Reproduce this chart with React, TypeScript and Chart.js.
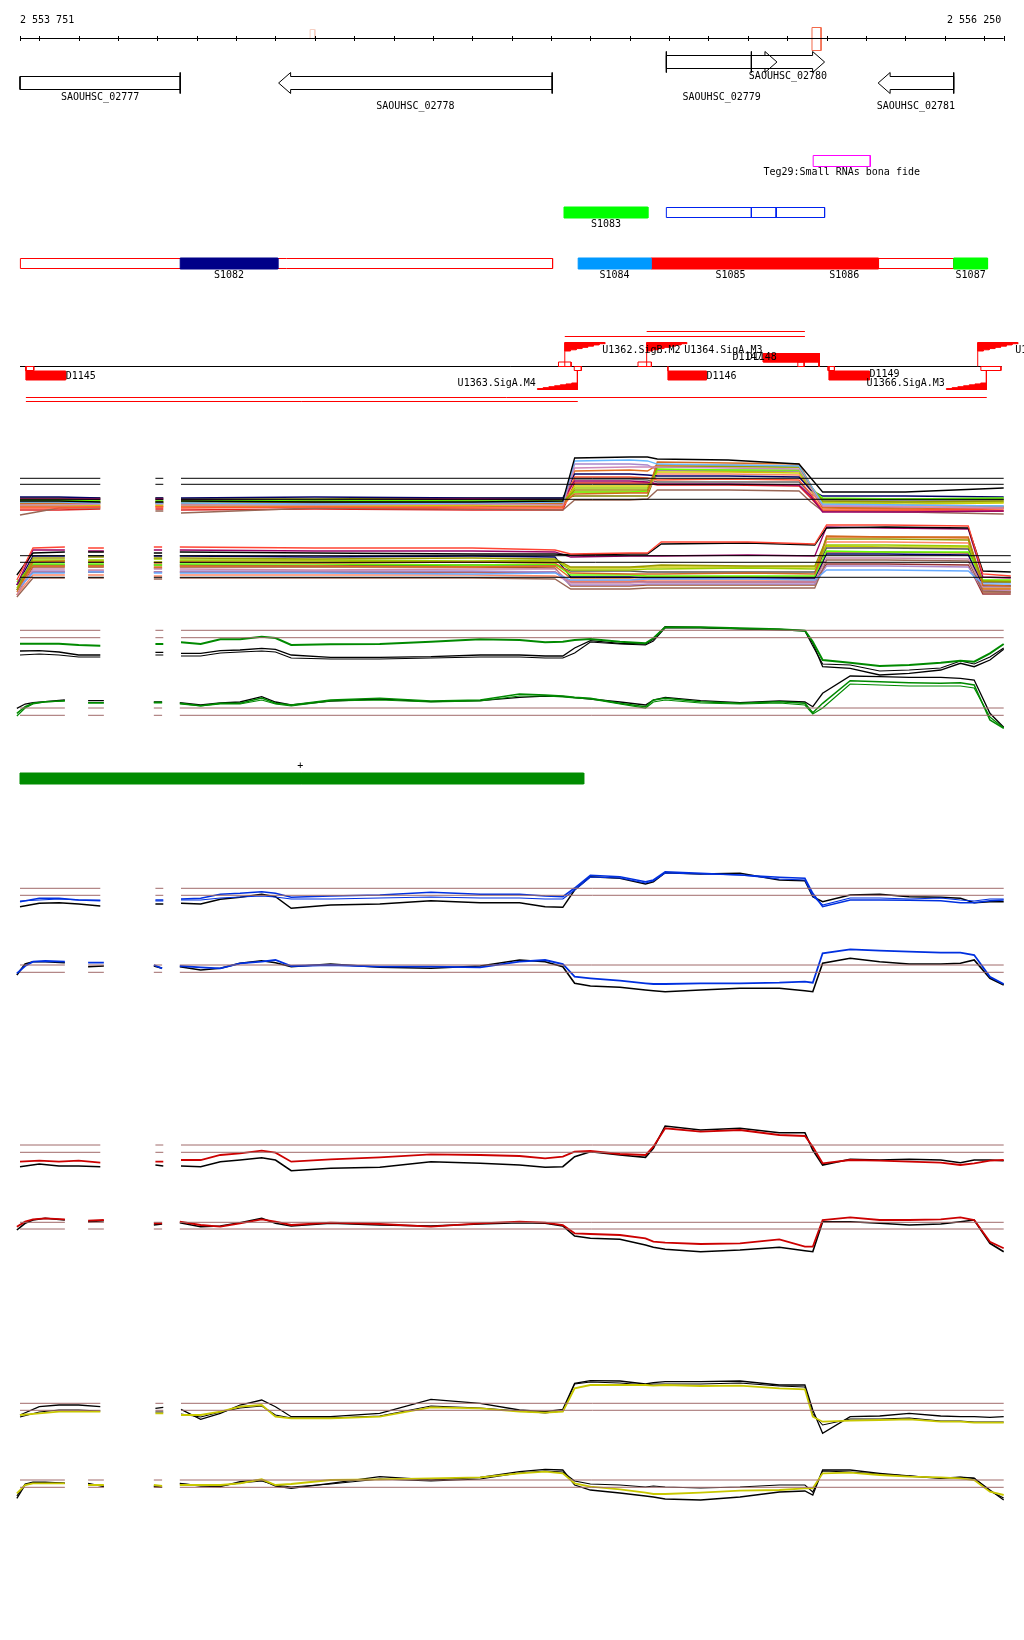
import React, { useEffect, useRef } from "react";
import { Chart, registerables } from "chart.js";

Chart.register(...registerables);

/* ======================= DATA ======================= */
const VIEW_START = 2553751;
const VIEW_END = 2556250;
const TICK_STEP = 100;

const HILITE_START = [2554488, 2555763];
const HILITE_END = [2554500, 2555786];

// genes
const GENE_NAMES = ["SAOUHSC_02777", "SAOUHSC_02778", "SAOUHSC_02779", "SAOUHSC_02780", "SAOUHSC_02781"];
const GENE_START = [2553560, 2554408, 2555393, 2555609, 2555931];
const GENE_END = [2554158, 2555103, 2555674, 2555795, 2556123];
const GENE_STRAND = [-1, -1, 1, 1, -1];

// small RNA
const SRNA_NAMES = ["Teg29:Small RNAs bona fide"];
const SRNA_START = [2555766];
const SRNA_END = [2555911];

// segment row 1
const SEG1_NAMES = ["S1083"];
const SEG1_START = [2555133];
const SEG1_END = [2555346];
const CDS_BOUNDS = [2555393, 2555609, 2555672, 2555795];

// segment row 2
const SEG_NAMES = ["S1082", "S1084", "S1085", "S1086", "S1087"];
const SEG_START = [2554158, 2555169, 2555354, 2555758, 2556123];
const SEG_END = [2554406, 2555354, 2555758, 2555932, 2556209];
const SEG_OUTLINE_START = [2553752, 2555932];
const SEG_OUTLINE_END = [2555104, 2556123];

// transcription units
const TU_LINE = [2553751, 2556245];
const TU_START = [2553766, 2553766, 2555135, 2555343];
const TU_END = [2556207, 2555168, 2555745, 2555745];
const DOWN_NAMES = ["D1145", "D1146", "D1147", "D1148", "D1149"];
const DOWN_START = [2553766, 2555397, 2555639, 2555639, 2555806];
const DOWN_END = [2553867, 2555495, 2555781, 2555781, 2555909];
const DOWN_SIDE = [-1, -1, 1, 1, -1];
const DOWN_LABEL_AT = [2553867, 2555495, 2555561, 2555597, 2555909];
const PROM_NAMES = ["U1362.SigB.M2", "U1363.SigA.M4", "U1364.SigA.M3", "U1366.SigA.M3", "U1367.SigA.M1"];
const PROM_POS = [2555135, 2555167, 2555343, 2556206, 2556184];
const PROM_STRAND = [1, -1, 1, -1, 1];
const SITE_START = [2555119, 2555159, 2555321, 2556192, 2553766, 2555727, 2555803];
const SITE_END = [2555151, 2555177, 2555355, 2556243, 2553786, 2555743, 2555820];
const SITE_SIDE = [1, -1, 1, -1, -1, 1, -1];

// coverage bar
const COVER_START = [2553751];
const COVER_END = [2555183];
const COVER_MARK = 2554463;

// expression sample positions
const TOP_POS = [2553751, 2553800, 2553850, 2553900, 2553955, 2554095, 2554115, 2554160, 2554210, 2554260, 2554310, 2554365, 2554400, 2554440, 2554540, 2554665, 2554795, 2554920, 2555020, 2555085, 2555130, 2555160, 2555200, 2555275, 2555340, 2555360, 2555390, 2555480, 2555580, 2555680, 2555745, 2555765, 2555790, 2555860, 2555935, 2556010, 2556090, 2556140, 2556175, 2556215, 2556250];
const BOT_POS = [2553743, 2553764, 2553784, 2553815, 2553865, 2553924, 2553964, 2554091, 2554112, 2554157, 2554210, 2554260, 2554310, 2554365, 2554400, 2554440, 2554540, 2554665, 2554795, 2554920, 2555020, 2555085, 2555130, 2555160, 2555200, 2555275, 2555340, 2555360, 2555390, 2555480, 2555580, 2555680, 2555745, 2555765, 2555790, 2555860, 2555935, 2556010, 2556090, 2556140, 2556175, 2556215, 2556250];
const TOP_GAPS = [4, 6];
const BOT_GAPS = [4, 6, 8];
const TOP_SEGMENTS = [[2553751, 2553955], [2554095, 2554115], [2554160, 2556250]];
const BOT_SEGMENTS = [[2553751, 2553865], [2553924, 2553964], [2554091, 2554112], [2554157, 2556250]];
const BOT_SEGMENTS_B = [[2553751, 2553865], [2553924, 2553964], [2554091, 2554112], [2554157, 2556268]];

// cluster A (forward strand, many conditions)
const POS_A = [2553751, 2553850, 2553955, 2554095, 2554115, 2554160, 2554500, 2554900, 2555130, 2555160, 2555300, 2555345, 2555370, 2555550, 2555730, 2555760, 2555790, 2556000, 2556250];
const A_GAPS = [2, 4];
const A_BLACK = [1.9, 1.9, 1.8, 1.8, 1.8, 1.9, 1.8, 1.8, 1.9, 6.2, 6.3, 6.3, 6.1, 6.0, 5.6, 4.2, 2.8, 2.8, 3.2];
const A_LIGHTBLUE = [1.8, 1.8, 1.7, 1.7, 1.7, 1.7, 1.6, 1.7, 1.8, 5.9, 6.0, 5.9, 5.6, 5.5, 5.4, 3.5, 1.6, 1.5, 1.4];
const A_PINK = [1.5, 1.5, 1.6, 1.6, 1.6, 1.5, 1.5, 1.6, 1.5, 5.2, 5.3, 5.3, 5.3, 5.2, 5.1, 3.2, 1.4, 1.3, 1.2];
const A_CHOCOLATE = [1.6, 1.7, 1.7, 1.7, 1.7, 1.6, 1.7, 1.6, 1.6, 2.6, 2.7, 2.7, 5.8, 5.7, 5.6, 3.5, 1.3, 1.2, 1.3];
const A_OLIVE = [1.7, 1.7, 1.8, 1.8, 1.8, 1.7, 1.8, 1.7, 1.7, 3.0, 3.0, 3.0, 5.3, 5.4, 5.3, 3.4, 1.9, 1.8, 1.9];
const A_LIME = [2.0, 2.0, 1.9, 1.9, 1.9, 1.9, 2.0, 1.9, 1.9, 2.8, 2.8, 2.9, 5.1, 5.0, 5.0, 3.2, 2.2, 2.1, 2.2];
const A_MAGENTA = [2.1, 2.1, 2.1, 2.1, 2.1, 2.0, 2.0, 2.1, 2.0, 3.9, 3.9, 3.8, 3.6, 3.6, 3.5, 2.4, 0.8, 0.8, 0.9];
const A_TOMATO = [1.2, 1.2, 1.3, 1.3, 1.3, 1.2, 1.3, 1.2, 1.2, 4.3, 4.3, 4.2, 4.0, 4.1, 4.0, 2.6, 1.0, 1.0, 1.1];
const A_BROWN = [0.5, 1.2, 1.2, 0.9, 0.9, 0.7, 1.2, 1.1, 1.0, 2.0, 2.0, 2.1, 3.0, 3.0, 2.9, 1.8, 0.9, 0.8, 0.6];
const A_NAVY = [2.3, 2.3, 2.2, 2.2, 2.2, 2.2, 2.3, 2.2, 2.2, 4.6, 4.6, 4.5, 4.4, 4.4, 4.3, 3.0, 2.4, 2.4, 2.3];
const A_GOLD = [1.5, 1.5, 1.5, 1.5, 1.5, 1.5, 1.4, 1.5, 1.5, 3.4, 3.4, 3.4, 4.8, 4.8, 4.7, 3.0, 1.7, 1.6, 1.7];
const A_ORANGE = [1.4, 1.4, 1.4, 1.4, 1.4, 1.4, 1.4, 1.4, 1.3, 4.9, 5.0, 4.9, 5.5, 5.5, 5.4, 3.3, 1.2, 1.1, 1.2];
const A_LAVENDER = [1.7, 1.7, 1.7, 1.7, 1.7, 1.7, 1.6, 1.7, 1.7, 5.6, 5.6, 5.5, 5.0, 5.0, 4.9, 3.0, 1.5, 1.5, 1.4];
const A_SALMON = [1.3, 1.3, 1.3, 1.3, 1.3, 1.3, 1.3, 1.3, 1.4, 2.8, 2.8, 2.8, 4.6, 4.6, 4.5, 2.9, 1.3, 1.3, 1.3];
const A_GREY = [2.0, 2.0, 2.0, 2.0, 2.0, 2.0, 1.9, 2.0, 2.0, 4.1, 4.1, 4.0, 3.8, 3.8, 3.8, 2.6, 2.0, 2.0, 2.0];
const A_YELLOWGREEN = [1.8, 1.8, 1.8, 1.8, 1.8, 1.8, 1.8, 1.8, 1.8, 3.2, 3.2, 3.2, 5.4, 5.3, 5.3, 3.3, 1.8, 1.8, 1.8];
const A_RED = [1.0, 1.0, 1.1, 1.1, 1.1, 1.0, 1.1, 1.0, 1.0, 3.7, 3.7, 3.7, 3.5, 3.5, 3.4, 2.2, 0.9, 0.9, 0.9];
const A_DARKOLIVE = [2.2, 2.2, 2.2, 2.2, 2.2, 2.1, 2.1, 2.2, 2.2, 2.4, 2.4, 2.4, 5.0, 4.9, 4.9, 3.0, 2.1, 2.1, 2.1];
const REF_A = [4.17, 3.57, 2.07];

// cluster B (reverse strand, many conditions)
const POS_B = [2553743, 2553784, 2553865, 2553924, 2553964, 2554091, 2554112, 2554157, 2554500, 2554900, 2555110, 2555150, 2555300, 2555345, 2555380, 2555600, 2555770, 2555800, 2555950, 2556160, 2556197, 2556268];
const B_GAPS = [2, 4, 6];
const B_TOMATO = [2.0, 5.2, 5.3, 5.2, 5.2, 5.3, 5.3, 5.3, 5.2, 5.2, 5.0, 4.6, 4.7, 4.7, 5.8, 5.8, 5.6, 7.5, 7.5, 7.4, 2.6, 2.4];
const B_BLACK = [2.5, 4.7, 4.8, 4.8, 4.8, 4.7, 4.7, 4.8, 4.7, 4.6, 4.6, 4.5, 4.6, 4.6, 5.6, 5.7, 5.5, 7.2, 7.3, 7.2, 2.9, 2.8];
const B_MAGENTA = [1.5, 5.0, 5.0, 4.9, 4.9, 5.0, 5.0, 5.0, 4.9, 4.9, 4.8, 4.3, 4.4, 4.4, 4.4, 4.5, 4.4, 7.3, 7.2, 7.1, 2.3, 2.2];
const B_OLIVE = [1.0, 4.2, 4.2, 4.3, 4.3, 4.2, 4.2, 4.2, 4.1, 4.2, 4.1, 3.3, 3.3, 3.4, 3.5, 3.4, 3.4, 6.1, 6.1, 6.0, 1.9, 1.8];
const B_CHOCOLATE = [0.8, 3.8, 3.9, 3.8, 3.8, 3.7, 3.7, 3.8, 3.7, 3.8, 3.7, 2.7, 2.6, 2.6, 2.6, 2.7, 2.6, 6.4, 6.3, 6.3, 1.5, 1.4];
const B_YELLOWGREEN = [1.2, 4.0, 4.0, 4.0, 4.0, 4.1, 4.1, 4.0, 4.0, 3.9, 4.0, 3.0, 3.0, 3.1, 3.1, 3.2, 3.1, 5.5, 5.5, 5.4, 1.9, 1.9];
const B_LIME = [1.8, 3.6, 3.6, 3.6, 3.6, 3.5, 3.5, 3.6, 3.6, 3.5, 3.6, 2.5, 2.5, 2.4, 2.4, 2.4, 2.4, 4.9, 4.8, 4.8, 2.0, 2.0];
const B_LIGHTBLUE = [1.0, 2.7, 2.7, 2.8, 2.8, 2.7, 2.7, 2.7, 2.7, 2.6, 2.7, 2.0, 2.0, 2.1, 2.1, 2.1, 2.0, 3.0, 3.0, 2.9, 1.6, 1.6];
const B_PINK = [0.5, 3.1, 3.1, 3.0, 3.0, 3.1, 3.1, 3.1, 3.0, 3.1, 3.1, 1.7, 1.7, 1.8, 1.8, 1.8, 1.8, 4.2, 4.2, 4.1, 1.3, 1.3];
const B_BROWN = [0.3, 2.2, 2.2, 2.2, 2.2, 2.1, 2.1, 2.2, 2.2, 2.2, 2.1, 1.1, 1.1, 1.2, 1.2, 1.2, 1.2, 4.0, 4.0, 3.9, 0.9, 0.8];
const B_NAVY = [1.5, 4.4, 4.4, 4.4, 4.4, 4.4, 4.4, 4.4, 4.3, 4.4, 4.3, 2.3, 2.3, 2.2, 2.2, 2.2, 2.2, 4.6, 4.6, 4.5, 1.4, 1.4];
const B_ORANGE = [1.0, 3.4, 3.4, 3.4, 3.4, 3.3, 3.3, 3.4, 3.4, 3.3, 3.4, 2.2, 2.2, 2.3, 2.3, 2.3, 2.2, 6.3, 6.3, 6.2, 1.1, 1.1];
const B_LAVENDER = [1.0, 2.9, 2.9, 2.9, 2.9, 2.8, 2.8, 2.9, 2.9, 2.9, 2.8, 1.5, 1.5, 1.6, 1.6, 1.6, 1.6, 3.4, 3.4, 3.3, 1.0, 1.0];
const B_GREY = [1.5, 3.5, 3.5, 3.5, 3.5, 3.5, 3.5, 3.5, 3.4, 3.5, 3.5, 2.9, 2.9, 2.8, 2.8, 2.8, 2.8, 5.2, 5.2, 5.1, 1.8, 1.8];
const B_SALMON = [0.5, 2.5, 2.5, 2.5, 2.5, 2.4, 2.4, 2.5, 2.5, 2.5, 2.4, 1.9, 1.9, 2.0, 2.0, 2.0, 2.0, 5.8, 5.8, 5.7, 0.9, 0.9];
const B_GOLD = [1.0, 3.9, 3.9, 3.9, 3.9, 3.8, 3.8, 3.9, 3.9, 3.8, 3.9, 3.2, 3.2, 3.3, 3.3, 3.3, 3.3, 5.4, 5.3, 5.3, 1.2, 1.2];
const B_SIENNA = [0.5, 3.3, 3.3, 3.3, 3.3, 3.2, 3.2, 3.3, 3.3, 3.3, 3.2, 1.4, 1.4, 1.5, 1.5, 1.5, 1.5, 4.8, 4.8, 4.7, 0.8, 0.8];
const B_DARKRED = [1.0, 2.8, 2.8, 2.8, 2.8, 2.8, 2.8, 2.8, 2.8, 2.8, 2.8, 1.8, 1.8, 1.8, 1.8, 1.8, 1.8, 3.6, 3.6, 3.5, 0.6, 0.6];
const REF_B = [4.43, 3.77, 2.27];

// green pair (forward / reverse)
const C_GREEN = [3.63, 3.63, 3.63, 3.5, 3.43, 3.6, 3.6, 3.77, 3.6, 4.07, 4.07, 4.33, 4.2, 3.5, 3.57, 3.6, 3.83, 4.07, 4.0, 3.77, 3.83, 4.0, 4.1, 3.83, 3.67, 4.17, 5.27, 5.27, 5.17, 5.07, 4.93, 3.83, 2.0, 1.73, 1.4, 1.5, 1.73, 1.93, 1.83, 2.67, 3.6];
const C_BLACK = [2.9, 2.93, 2.8, 2.5, 2.5, 2.77, 2.77, 2.67, 2.67, 2.93, 3.0, 3.17, 3.07, 2.5, 2.27, 2.27, 2.33, 2.5, 2.5, 2.4, 2.4, 3.2, 3.93, 3.67, 3.6, 4.07, 5.33, 5.27, 5.13, 5.07, 4.93, 3.67, 1.33, 1.17, 0.5, 0.67, 1.0, 1.67, 1.33, 2.0, 3.07];
const C_BLACK2 = [2.5, 2.6, 2.5, 2.3, 2.3, 2.5, 2.5, 2.4, 2.4, 2.7, 2.8, 2.9, 2.8, 2.2, 2.1, 2.1, 2.2, 2.3, 2.3, 2.2, 2.2, 2.7, 3.8, 3.6, 3.5, 3.9, 5.2, 5.2, 5.1, 5.0, 4.9, 3.4, 1.6, 1.5, 0.9, 1.0, 1.2, 1.9, 1.6, 2.3, 3.2];
const REF_C = [4.97, 4.23];
const D_GREEN = [2.67, 3.33, 3.67, 3.83, 3.93, 3.73, 3.73, 3.77, 3.77, 3.67, 3.43, 3.67, 3.67, 4.2, 3.67, 3.5, 4.0, 4.17, 3.9, 4.0, 4.6, 4.5, 4.4, 4.27, 4.17, 3.67, 3.33, 4.0, 4.17, 3.83, 3.67, 3.83, 3.67, 2.73, 3.67, 5.93, 5.83, 5.73, 5.67, 5.73, 5.5, 2.0, 1.17];
const D_GREEN2 = [2.4, 3.2, 3.6, 3.8, 3.9, 3.7, 3.7, 3.7, 3.7, 3.6, 3.4, 3.6, 3.6, 4.0, 3.6, 3.4, 3.9, 4.0, 3.8, 3.9, 4.4, 4.4, 4.3, 4.2, 4.1, 3.6, 3.2, 3.8, 4.0, 3.7, 3.6, 3.7, 3.5, 2.6, 3.2, 5.6, 5.5, 5.4, 5.4, 5.4, 5.2, 2.3, 1.2];
const D_BLACK = [3.17, 3.6, 3.73, 3.83, 4.0, 3.93, 3.93, 3.8, 3.8, 3.73, 3.5, 3.7, 3.8, 4.33, 3.8, 3.5, 3.9, 4.1, 3.83, 3.93, 4.27, 4.4, 4.37, 4.23, 4.1, 3.8, 3.5, 4.0, 4.27, 3.93, 3.73, 3.9, 3.8, 3.33, 4.67, 6.4, 6.33, 6.27, 6.27, 6.17, 6.0, 2.67, 1.27];
const REF_D = [3.2, 2.47];

// blue pair
const E_BLUE = [1.83, 2.17, 2.17, 2.0, 1.93, 2.0, 2.0, 2.1, 2.17, 2.57, 2.67, 2.83, 2.67, 2.27, 2.4, 2.5, 2.77, 2.57, 2.57, 2.4, 2.33, 3.2, 4.47, 4.33, 3.83, 4.0, 4.83, 4.67, 4.5, 4.27, 4.17, 2.67, 1.33, 2.0, 2.0, 1.97, 1.93, 1.73, 1.73, 1.93, 2.0];
const E_BLUE2 = [1.9, 2.0, 2.1, 2.0, 2.0, 1.9, 1.9, 2.0, 2.0, 2.2, 2.3, 2.4, 2.3, 2.1, 2.1, 2.2, 2.3, 2.2, 2.2, 2.1, 2.1, 3.0, 4.3, 4.2, 3.7, 3.9, 4.7, 4.6, 4.5, 4.1, 4.0, 2.4, 1.5, 2.2, 2.2, 2.1, 2.2, 2.0, 1.9, 2.1, 2.1];
const E_BLACK = [1.33, 1.67, 1.73, 1.6, 1.4, 1.6, 1.6, 1.67, 1.6, 2.07, 2.27, 2.57, 2.33, 1.17, 1.5, 1.6, 1.93, 1.73, 1.73, 1.33, 1.27, 3.0, 4.33, 4.17, 3.6, 3.83, 4.73, 4.6, 4.67, 4.0, 3.93, 2.33, 1.83, 2.5, 2.57, 2.33, 2.27, 2.17, 1.73, 1.83, 1.83];
const REF_E = [3.17, 2.47];
const F_BLUE = [2.67, 3.4, 3.83, 3.9, 3.83, 3.73, 3.73, 3.5, 3.17, 3.4, 3.27, 3.17, 3.67, 3.83, 4.0, 3.4, 3.5, 3.33, 3.33, 3.27, 3.83, 4.0, 3.6, 2.33, 2.17, 1.93, 1.67, 1.6, 1.6, 1.67, 1.67, 1.73, 1.83, 1.73, 4.67, 5.07, 4.93, 4.83, 4.73, 4.73, 4.5, 2.33, 1.6];
const F_BLACK = [2.5, 3.6, 3.83, 3.83, 3.73, 3.33, 3.4, 3.4, 3.17, 3.33, 3.0, 3.17, 3.67, 3.93, 3.73, 3.33, 3.6, 3.27, 3.17, 3.4, 4.0, 3.83, 3.33, 1.67, 1.4, 1.27, 1.0, 0.93, 0.83, 1.0, 1.17, 1.17, 0.93, 0.83, 3.67, 4.17, 3.83, 3.6, 3.6, 3.67, 4.0, 2.17, 1.5];
const REF_F = [3.5, 2.77];

// red pair
const G_RED = [1.83, 1.93, 1.83, 1.93, 1.73, 1.83, 1.83, 2.0, 2.0, 2.5, 2.67, 2.93, 2.73, 1.83, 2.07, 2.27, 2.57, 2.5, 2.4, 2.17, 2.33, 2.83, 2.9, 2.6, 2.5, 3.33, 5.17, 4.83, 5.0, 4.5, 4.4, 3.33, 1.67, 2.0, 1.93, 1.83, 1.73, 1.5, 1.67, 1.93, 2.0];
const G_BLACK = [1.33, 1.6, 1.4, 1.4, 1.33, 1.5, 1.4, 1.4, 1.33, 1.83, 2.0, 2.23, 2.0, 0.93, 1.17, 1.27, 1.83, 1.67, 1.5, 1.27, 1.33, 2.33, 2.83, 2.5, 2.27, 3.17, 5.4, 5.0, 5.17, 4.73, 4.73, 3.0, 1.5, 2.07, 2.0, 2.07, 2.0, 1.73, 2.0, 2.0, 1.93];
const REF_G = [3.5, 2.77];
const H_RED = [3.33, 3.83, 4.07, 4.17, 4.07, 3.93, 4.0, 3.67, 3.67, 3.83, 3.5, 3.33, 3.67, 4.07, 3.83, 3.5, 3.73, 3.6, 3.33, 3.67, 3.83, 3.73, 3.5, 2.67, 2.6, 2.5, 2.17, 1.83, 1.73, 1.6, 1.67, 2.07, 1.33, 1.33, 4.0, 4.27, 4.0, 4.0, 4.07, 4.27, 4.0, 1.83, 1.17];
const H_BLACK = [3.0, 3.67, 4.0, 4.17, 4.0, 3.83, 3.93, 3.5, 3.6, 3.73, 3.33, 3.4, 3.73, 4.17, 3.67, 3.4, 3.67, 3.5, 3.4, 3.6, 3.73, 3.67, 3.4, 2.4, 2.17, 2.07, 1.5, 1.27, 1.07, 0.83, 1.0, 1.27, 0.93, 0.83, 3.83, 3.83, 3.67, 3.5, 3.6, 3.83, 4.0, 1.67, 0.83];
const REF_H = [3.77, 3.1];

// yellow pair
const I_YELLOW = [2.5, 2.67, 2.83, 2.83, 2.83, 2.67, 2.67, 2.5, 2.5, 2.83, 3.33, 3.5, 2.33, 2.17, 2.17, 2.33, 3.27, 3.17, 2.83, 2.73, 2.83, 5.17, 5.5, 5.5, 5.5, 5.43, 5.5, 5.4, 5.43, 5.17, 5.07, 2.33, 1.83, 1.93, 2.0, 2.07, 1.83, 1.83, 1.73, 1.73, 1.73];
const I_BLACK = [2.5, 3.33, 3.5, 3.5, 3.33, 3.17, 3.27, 3.07, 2.07, 2.67, 3.5, 4.0, 3.33, 2.33, 2.33, 2.67, 4.07, 3.67, 3.0, 2.83, 3.07, 5.67, 5.93, 5.9, 5.6, 5.73, 5.83, 5.83, 5.9, 5.5, 5.5, 3.0, 0.67, 2.33, 2.4, 2.67, 2.4, 2.33, 2.33, 2.27, 2.33];
const I_BLACK2 = [2.3, 2.8, 3.0, 3.0, 2.9, 2.8, 2.8, 2.6, 2.3, 2.8, 3.2, 3.4, 2.5, 2.2, 2.2, 2.4, 3.4, 3.2, 2.9, 2.7, 2.9, 5.6, 5.8, 5.7, 5.5, 5.6, 5.6, 5.6, 5.7, 5.4, 5.3, 2.6, 1.5, 2.1, 2.1, 2.2, 1.9, 1.9, 1.8, 1.8, 1.8];
const REF_I = [3.67, 2.97];
const J_YELLOW = [1.17, 2.0, 2.17, 2.17, 2.17, 2.0, 2.0, 2.0, 1.9, 2.0, 2.0, 2.0, 2.17, 2.57, 2.0, 2.1, 2.5, 2.57, 2.67, 2.77, 3.17, 3.33, 3.17, 2.17, 1.83, 1.57, 1.23, 1.1, 1.1, 1.23, 1.43, 1.5, 1.67, 1.67, 3.17, 3.23, 3.0, 2.83, 2.77, 2.67, 2.5, 1.33, 1.0];
const J_BLACK = [0.67, 2.0, 2.23, 2.23, 2.17, 2.17, 1.83, 1.83, 1.77, 2.17, 1.9, 1.83, 2.33, 2.5, 1.9, 1.67, 2.17, 2.83, 2.5, 2.77, 3.33, 3.57, 3.5, 2.0, 1.5, 1.2, 0.9, 0.8, 0.6, 0.5, 0.8, 1.3, 1.4, 1.0, 3.5, 3.5, 3.17, 2.9, 2.67, 2.77, 2.67, 1.5, 0.5];
const J_BLACK2 = [0.9, 2.1, 2.3, 2.3, 2.2, 2.1, 1.9, 1.9, 1.8, 2.1, 2.0, 1.9, 2.2, 2.4, 2.0, 1.8, 2.1, 2.6, 2.4, 2.6, 3.2, 3.4, 3.3, 2.4, 2.1, 2.0, 1.8, 1.9, 1.8, 1.7, 1.8, 2.0, 2.0, 1.3, 3.4, 3.3, 3.1, 2.9, 2.7, 2.8, 2.7, 1.4, 0.7];
const REF_J = [2.5, 1.77];

/* ======================= LAYOUT / STYLE ======================= */
const W = 1024;
const H = 1640;
const VIEW_LEFT_PX = 20;
const VIEW_RIGHT_PX = 1003.7;
const BP_PER_PX = (VIEW_END - VIEW_START) / (VIEW_RIGHT_PX - VIEW_LEFT_PX);
const X_MIN = VIEW_START - VIEW_LEFT_PX * BP_PER_PX;
const X_MAX = VIEW_END + (W - VIEW_RIGHT_PX) * BP_PER_PX;
const PX_PER_UNIT = 10;
const FONT = '10px "DejaVu Sans Mono", monospace';

const L = {
  axisY: 38.5, tickHalf: 2.5, axisLabelY: 20.5,
  hilite: [[29.5, 38.5], [27.5, 50.5]],
  hiliteColor: ["#f5cfc2", "#f2694a"],
  fwd: { barTop: 51.5, bodyTop: 55.5, bodyBot: 68.5, barBot: 72.5 },
  rev: { barTop: 72.5, bodyTop: 76.5, bodyBot: 89.5, barBot: 93.5 },
  headPx: 12,
  geneLabelY: [97.5, 106.5, 97.5, 76, 106.5],
  srna: [155.5, 166.5], srnaLabelY: 172.5,
  seg1: [207, 218], seg1LabelY: 224,
  seg2: [258.5, 268.5], seg2LabelY: 275.5,
  tuLine: 366.5, tuY: [397.5, 401.5, 336.5, 331.5],
  downBelow: [371, 380], downAbove: [353.5, 362],
  downLabelY: [376, 376, 357.5, 357.5, 374.5],
  siteAbove: [362, 366.5], siteBelow: [366.5, 370.5],
  flagPx: 40, flagSteps: 7, fwdFlagTop: 342.5, fwdFlagBot: 351, revFlagBot: 389.5, revFlagTop: 383,
  promLabelFwdY: 350, promLabelRevY: 383.5,
  cover: [773, 784], coverMarkY: 766.5,
};

const TRACK_BOTTOM: Record<string, number> = {
  yA: 520, yB: 600, yC: 680, yD: 740, yE: 920, yF: 1000, yG: 1180, yH: 1260, yI: 1440, yJ: 1505,
};

const GREEN = "#008a00";
const BLUE = "#0030e0";
const RED = "#cc0000";
const YELLOW = "#c8c800";
const BROWN = "#a06a6a";

/* ======================= BUILDERS ======================= */
type P = { x: number; y: number | null };

function withGaps(pos: number[], vals: number[], gaps: number[]): P[] {
  const out: P[] = [];
  pos.forEach((p, i) => {
    out.push({ x: p, y: vals[i] });
    if (gaps.includes(i) && i + 1 < pos.length) out.push({ x: (p + pos[i + 1]) / 2, y: null });
  });
  return out;
}
function refLine(segs: number[][], v: number): P[] {
  const out: P[] = [];
  segs.forEach((s, i) => {
    out.push({ x: s[0], y: v }, { x: s[1], y: v });
    if (i < segs.length - 1) out.push({ x: (s[1] + segs[i + 1][0]) / 2, y: null });
  });
  return out;
}
function poly(pts: number[][]): P[] {
  const out = pts.map(([x, y]) => ({ x, y }));
  out.push({ x: pts[0][0], y: pts[0][1] });
  return out;
}
function rect(s: number, e: number, t: number, b: number): P[] {
  return poly([[s, t], [e, t], [e, b], [s, b]]);
}
function seg(x1: number, y1: number, x2: number, y2: number): P[] {
  return [{ x: x1, y: y1 }, { x: x2, y: y2 }];
}
// stepped promoter flag: flat edge at yFlat, staircase from (stem, yStem) to (tip, yFlat)
function stairFlag(stem: number, tip: number, yFlat: number, yStem: number, n: number): P[] {
  const pts: number[][] = [[stem, yFlat], [tip, yFlat]];
  for (let k = n - 1; k >= 0; k--) {
    const y = yStem + (yFlat - yStem) * (k / n);
    const xOuter = stem + (tip - stem) * ((k + 1) / n);
    const xInner = stem + (tip - stem) * (k / n);
    pts.push([xOuter, y], [xInner, y]);
  }
  return poly(pts);
}
const clampX = (v: number) => Math.min(VIEW_END, Math.max(VIEW_START, v));

function buildDatasets() {
  const ds: any[] = [];
  const add = (data: P[], color: string, yAxisID: string, width: number, order: number, fillColor?: string) =>
    ds.push({
      type: "line", data, borderColor: color, backgroundColor: fillColor || "rgba(0,0,0,0)",
      fill: fillColor ? "shape" : false, borderWidth: width, pointRadius: 0, pointHoverRadius: 0,
      tension: 0, spanGaps: false, yAxisID, xAxisID: "x", order, clip: false,
    });

  // axis highlights
  HILITE_START.forEach((s, i) => add(rect(s, HILITE_END[i], L.hilite[i][0], L.hilite[i][1]), L.hiliteColor[i], "yAnn", 1, 3));

  // genes
  const head = L.headPx * BP_PER_PX;
  GENE_NAMES.forEach((_, i) => {
    const s = clampX(GENE_START[i]);
    const e = clampX(GENE_END[i]);
    if (GENE_STRAND[i] > 0) {
      const g = L.fwd; const mid = (g.barTop + g.barBot) / 2;
      const tipIn = GENE_END[i] <= VIEW_END;
      const pts = tipIn
        ? [[s, g.bodyTop], [e - head, g.bodyTop], [e - head, g.barTop], [e, mid], [e - head, g.barBot], [e - head, g.bodyBot], [s, g.bodyBot]]
        : [[s, g.bodyTop], [e, g.bodyTop], [e, g.bodyBot], [s, g.bodyBot]];
      add(poly(pts), "#000", "yAnn", 1, 2);
      if (GENE_START[i] >= VIEW_START) add(seg(s, g.barTop, s, g.barBot), "#000", "yAnn", 1, 2);
    } else {
      const g = L.rev; const mid = (g.barTop + g.barBot) / 2;
      const tipIn = GENE_START[i] >= VIEW_START;
      const pts = tipIn
        ? [[e, g.bodyTop], [s + head, g.bodyTop], [s + head, g.barTop], [s, mid], [s + head, g.barBot], [s + head, g.bodyBot], [e, g.bodyBot]]
        : [[e, g.bodyTop], [s, g.bodyTop], [s, g.bodyBot], [e, g.bodyBot]];
      add(poly(pts), "#000", "yAnn", 1, 2);
      if (GENE_END[i] <= VIEW_END) add(seg(e, g.barTop, e, g.barBot), "#000", "yAnn", 1, 2);
    }
  });

  // small RNA
  SRNA_START.forEach((s, i) => add(rect(s, SRNA_END[i], L.srna[0], L.srna[1]), "#ff00ff", "yAnn", 1, 2));

  // segment row 1
  SEG1_START.forEach((s, i) => add(rect(s, SEG1_END[i], L.seg1[0], L.seg1[1]), "#00ff00", "yAnn", 1, 2, "#00ff00"));
  for (let i = 0; i + 1 < CDS_BOUNDS.length; i++)
    add(rect(CDS_BOUNDS[i], CDS_BOUNDS[i + 1], L.seg1[0] + 0.5, L.seg1[1] - 0.5), "#0022ee", "yAnn", 1, 2);

  // segment row 2
  SEG_OUTLINE_START.forEach((s, i) => add(rect(s, SEG_OUTLINE_END[i], L.seg2[0], L.seg2[1]), "#ff0000", "yAnn", 1, 3));
  const segColors = ["#000088", "#0099ff", "#ff0000", "#ff0000", "#00ff00"];
  SEG_START.forEach((s, i) => add(rect(s, SEG_END[i], L.seg2[0] - 0.5, L.seg2[1] + 0.5), segColors[i], "yAnn", 1, 2, segColors[i]));

  // transcription units
  add(seg(TU_LINE[0], L.tuLine, TU_LINE[1], L.tuLine), "#000", "yAnn", 1, 3);
  TU_START.forEach((s, i) => add(seg(s, L.tuY[i], TU_END[i], L.tuY[i]), "#ff0000", "yAnn", 1, 2));
  DOWN_START.forEach((s, i) => {
    const r = DOWN_SIDE[i] > 0 ? L.downAbove : L.downBelow;
    add(rect(s, DOWN_END[i], r[0], r[1]), "#ff0000", "yAnn", 1, 2, "#ff0000");
    if (DOWN_SIDE[i] > 0) add(seg(DOWN_END[i], r[0], DOWN_END[i], L.tuLine), "#ff0000", "yAnn", 1, 2);
    else add(seg(s, L.tuLine, s, r[0]), "#ff0000", "yAnn", 1, 2);
  });
  SITE_START.forEach((s, i) => {
    const r = SITE_SIDE[i] > 0 ? L.siteAbove : L.siteBelow;
    add(rect(s, SITE_END[i], r[0], r[1]), "#ff0000", "yAnn", 1, 1);
  });
  const flag = L.flagPx * BP_PER_PX;
  PROM_POS.forEach((p, i) => {
    if (PROM_STRAND[i] > 0) {
      add(seg(p, L.tuLine, p, L.fwdFlagTop), "#ff0000", "yAnn", 1, 1);
      add(stairFlag(p, p + flag, L.fwdFlagTop, L.fwdFlagBot, L.flagSteps), "#ff0000", "yAnn", 1, 1, "#ff0000");
    } else {
      add(seg(p, L.siteBelow[1], p, L.revFlagBot), "#ff0000", "yAnn", 1, 1);
      add(stairFlag(p, p - flag, L.revFlagBot, L.revFlagTop, L.flagSteps), "#ff0000", "yAnn", 1, 1, "#ff0000");
    }
  });

  // coverage bar
  COVER_START.forEach((s, i) => add(rect(s, COVER_END[i], L.cover[0], L.cover[1]), "#008c00", "yAnn", 1, 2, "#008c00"));

  // cluster A
  const clusterA: [number[], string][] = [
    [A_BLACK, "#000000"], [A_LIGHTBLUE, "#66b8ff"], [A_PINK, "#cc88bb"], [A_CHOCOLATE, "#d2691e"],
    [A_OLIVE, "#999900"], [A_LIME, "#66ff00"], [A_MAGENTA, "#990066"], [A_TOMATO, "#ff5533"],
    [A_BROWN, "#996655"], [A_NAVY, "#000066"], [A_GOLD, "#cccc00"], [A_ORANGE, "#e07020"],
    [A_LAVENDER, "#aa88cc"], [A_SALMON, "#ff8866"], [A_GREY, "#666666"], [A_YELLOWGREEN, "#99cc00"],
    [A_RED, "#dd2222"], [A_DARKOLIVE, "#808000"],
  ];
  clusterA.forEach(([v, c], k) => add(withGaps(POS_A, v, A_GAPS), c, "yA", 1.3, 20 + k));
  REF_A.forEach((v) => add(refLine(TOP_SEGMENTS, v), "#000", "yA", 1, 10));

  const clusterB: [number[], string][] = [
    [B_TOMATO, "#ff4433"], [B_BLACK, "#000000"], [B_MAGENTA, "#990066"], [B_OLIVE, "#999900"],
    [B_CHOCOLATE, "#d2691e"], [B_YELLOWGREEN, "#99cc00"], [B_LIME, "#66ff00"], [B_LIGHTBLUE, "#66aaff"],
    [B_PINK, "#cc88aa"], [B_BROWN, "#996655"], [B_NAVY, "#000066"], [B_ORANGE, "#e07020"],
    [B_LAVENDER, "#aa88cc"], [B_GREY, "#555555"], [B_SALMON, "#ff8866"], [B_GOLD, "#cccc00"],
    [B_SIENNA, "#a0522d"], [B_DARKRED, "#993333"],
  ];
  clusterB.forEach(([v, c], k) => add(withGaps(POS_B, v, B_GAPS), c, "yB", 1.3, 20 + k));
  REF_B.forEach((v) => add(refLine(BOT_SEGMENTS_B, v), "#000", "yB", 1, 10));

  const pair = (axis: string, pos: number[], gaps: number[], segs: number[][], series: [number[], string, number][], refs: number[]) => {
    series.forEach(([v, c, w], k) => add(withGaps(pos, v, gaps), c, axis, w, 20 + k));
    refs.forEach((v) => add(refLine(segs, v), BROWN, axis, 1, 10));
  };
  pair("yC", TOP_POS, TOP_GAPS, TOP_SEGMENTS, [[C_GREEN, GREEN, 2], [C_BLACK, "#000", 1.3], [C_BLACK2, "#000", 1.1]], REF_C);
  pair("yD", BOT_POS, BOT_GAPS, BOT_SEGMENTS, [[D_GREEN, GREEN, 1.5], [D_GREEN2, GREEN, 1.2], [D_BLACK, "#000", 1.3]], REF_D);
  pair("yE", TOP_POS, TOP_GAPS, TOP_SEGMENTS, [[E_BLUE, BLUE, 1.6], [E_BLUE2, BLUE, 1.2], [E_BLACK, "#000", 1.5]], REF_E);
  pair("yF", BOT_POS, BOT_GAPS, BOT_SEGMENTS, [[F_BLUE, BLUE, 1.8], [F_BLACK, "#000", 1.6]], REF_F);
  pair("yG", TOP_POS, TOP_GAPS, TOP_SEGMENTS, [[G_RED, RED, 1.8], [G_BLACK, "#000", 1.6]], REF_G);
  pair("yH", BOT_POS, BOT_GAPS, BOT_SEGMENTS, [[H_RED, RED, 1.8], [H_BLACK, "#000", 1.6]], REF_H);
  pair("yI", TOP_POS, TOP_GAPS, TOP_SEGMENTS, [[I_YELLOW, YELLOW, 1.8], [I_BLACK, "#000", 1.3], [I_BLACK2, "#000", 1.1]], REF_I);
  pair("yJ", BOT_POS, BOT_GAPS, BOT_SEGMENTS, [[J_YELLOW, YELLOW, 1.8], [J_BLACK, "#000", 1.3], [J_BLACK2, "#000", 1.1]], REF_J);
  return ds;
}

type Label = { text: string; x: number; y: number; align: CanvasTextAlign };
function buildLabels(): Label[] {
  const out: Label[] = [];
  const fmt = (n: number) => String(n).replace(/\B(?=(\d{3})+(?!\d))/g, " ");
  out.push({ text: fmt(VIEW_START), x: VIEW_START, y: L.axisLabelY, align: "left" });
  out.push({ text: fmt(VIEW_END), x: VIEW_END - 2.5 * BP_PER_PX, y: L.axisLabelY, align: "right" });
  GENE_NAMES.forEach((n, i) => out.push({ text: n, x: (clampX(GENE_START[i]) + clampX(GENE_END[i])) / 2, y: L.geneLabelY[i], align: "center" }));
  SRNA_NAMES.forEach((n, i) => out.push({ text: n, x: (SRNA_START[i] + SRNA_END[i]) / 2, y: L.srnaLabelY, align: "center" }));
  SEG1_NAMES.forEach((n, i) => out.push({ text: n, x: (SEG1_START[i] + SEG1_END[i]) / 2, y: L.seg1LabelY, align: "center" }));
  SEG_NAMES.forEach((n, i) => out.push({ text: n, x: (SEG_START[i] + SEG_END[i]) / 2, y: L.seg2LabelY, align: "center" }));
  DOWN_NAMES.forEach((n, i) => out.push({ text: n, x: DOWN_LABEL_AT[i], y: L.downLabelY[i], align: "left" }));
  PROM_NAMES.forEach((n, i) => {
    if (PROM_STRAND[i] > 0) out.push({ text: n, x: PROM_POS[i] + (L.flagPx - 2.5) * BP_PER_PX, y: L.promLabelFwdY, align: "left" });
    else out.push({ text: n, x: PROM_POS[i] - (L.flagPx + 1.5) * BP_PER_PX, y: L.promLabelRevY, align: "right" });
  });
  out.push({ text: "+", x: COVER_MARK, y: L.coverMarkY, align: "center" });
  return out;
}

const LABELS = buildLabels();

const overlayPlugin = {
  id: "browserOverlay",
  afterDatasetsDraw(chart: any) {
    const ctx = chart.ctx;
    const xs = chart.scales.x;
    const ys = chart.scales.yAnn;
    const X = (v: number) => xs.getPixelForValue(v);
    const Y = (v: number) => ys.getPixelForValue(v);
    ctx.save();
    ctx.strokeStyle = "#000";
    ctx.lineWidth = 1;
    const ay = Y(L.axisY);
    ctx.beginPath();
    ctx.moveTo(X(VIEW_START), ay);
    ctx.lineTo(X(VIEW_END), ay);
    const ticks = [VIEW_START];
    for (let t = Math.ceil((VIEW_START + 1) / TICK_STEP) * TICK_STEP; t < VIEW_END; t += TICK_STEP) ticks.push(t);
    ticks.push(VIEW_END);
    ticks.forEach((t) => {
      const px = Math.round(X(t)) + 0.5;
      ctx.moveTo(px, ay - L.tickHalf);
      ctx.lineTo(px, ay + L.tickHalf);
    });
    ctx.stroke();
    ctx.font = FONT;
    ctx.fillStyle = "#000";
    ctx.textBaseline = "middle";
    LABELS.forEach((l) => {
      ctx.textAlign = l.align;
      ctx.fillText(l.text, X(l.x), Y(l.y));
    });
    ctx.restore();
  },
};

export default function App() {
  const ref = useRef<HTMLCanvasElement | null>(null);
  useEffect(() => {
    document.body.style.margin = "0";
    const canvas = ref.current;
    if (!canvas) return;
    const scales: any = {
      x: { type: "linear", axis: "x", min: X_MIN, max: X_MAX, display: false },
      yAnn: { type: "linear", axis: "y", min: 0, max: H, reverse: true, display: false },
    };
    Object.keys(TRACK_BOTTOM).forEach((id) => {
      const top = TRACK_BOTTOM[id] / PX_PER_UNIT;
      scales[id] = { type: "linear", axis: "y", min: top - H / PX_PER_UNIT, max: top, display: false };
    });
    const chart = new Chart(canvas, {
      type: "line",
      data: { datasets: buildDatasets() },
      options: {
        animation: false,
        responsive: false,
        maintainAspectRatio: false,
        devicePixelRatio: 1,
        events: [],
        layout: { padding: 0 },
        scales,
        plugins: { legend: { display: false }, tooltip: { enabled: false } },
      },
      plugins: [overlayPlugin],
    } as any);
    return () => chart.destroy();
  }, []);
  return (
    <div style={{ position: "absolute", left: 0, top: 0, width: W, height: H, background: "#fff" }}>
      <canvas ref={ref} width={W} height={H} style={{ display: "block", width: W, height: H }} />
    </div>
  );
}
